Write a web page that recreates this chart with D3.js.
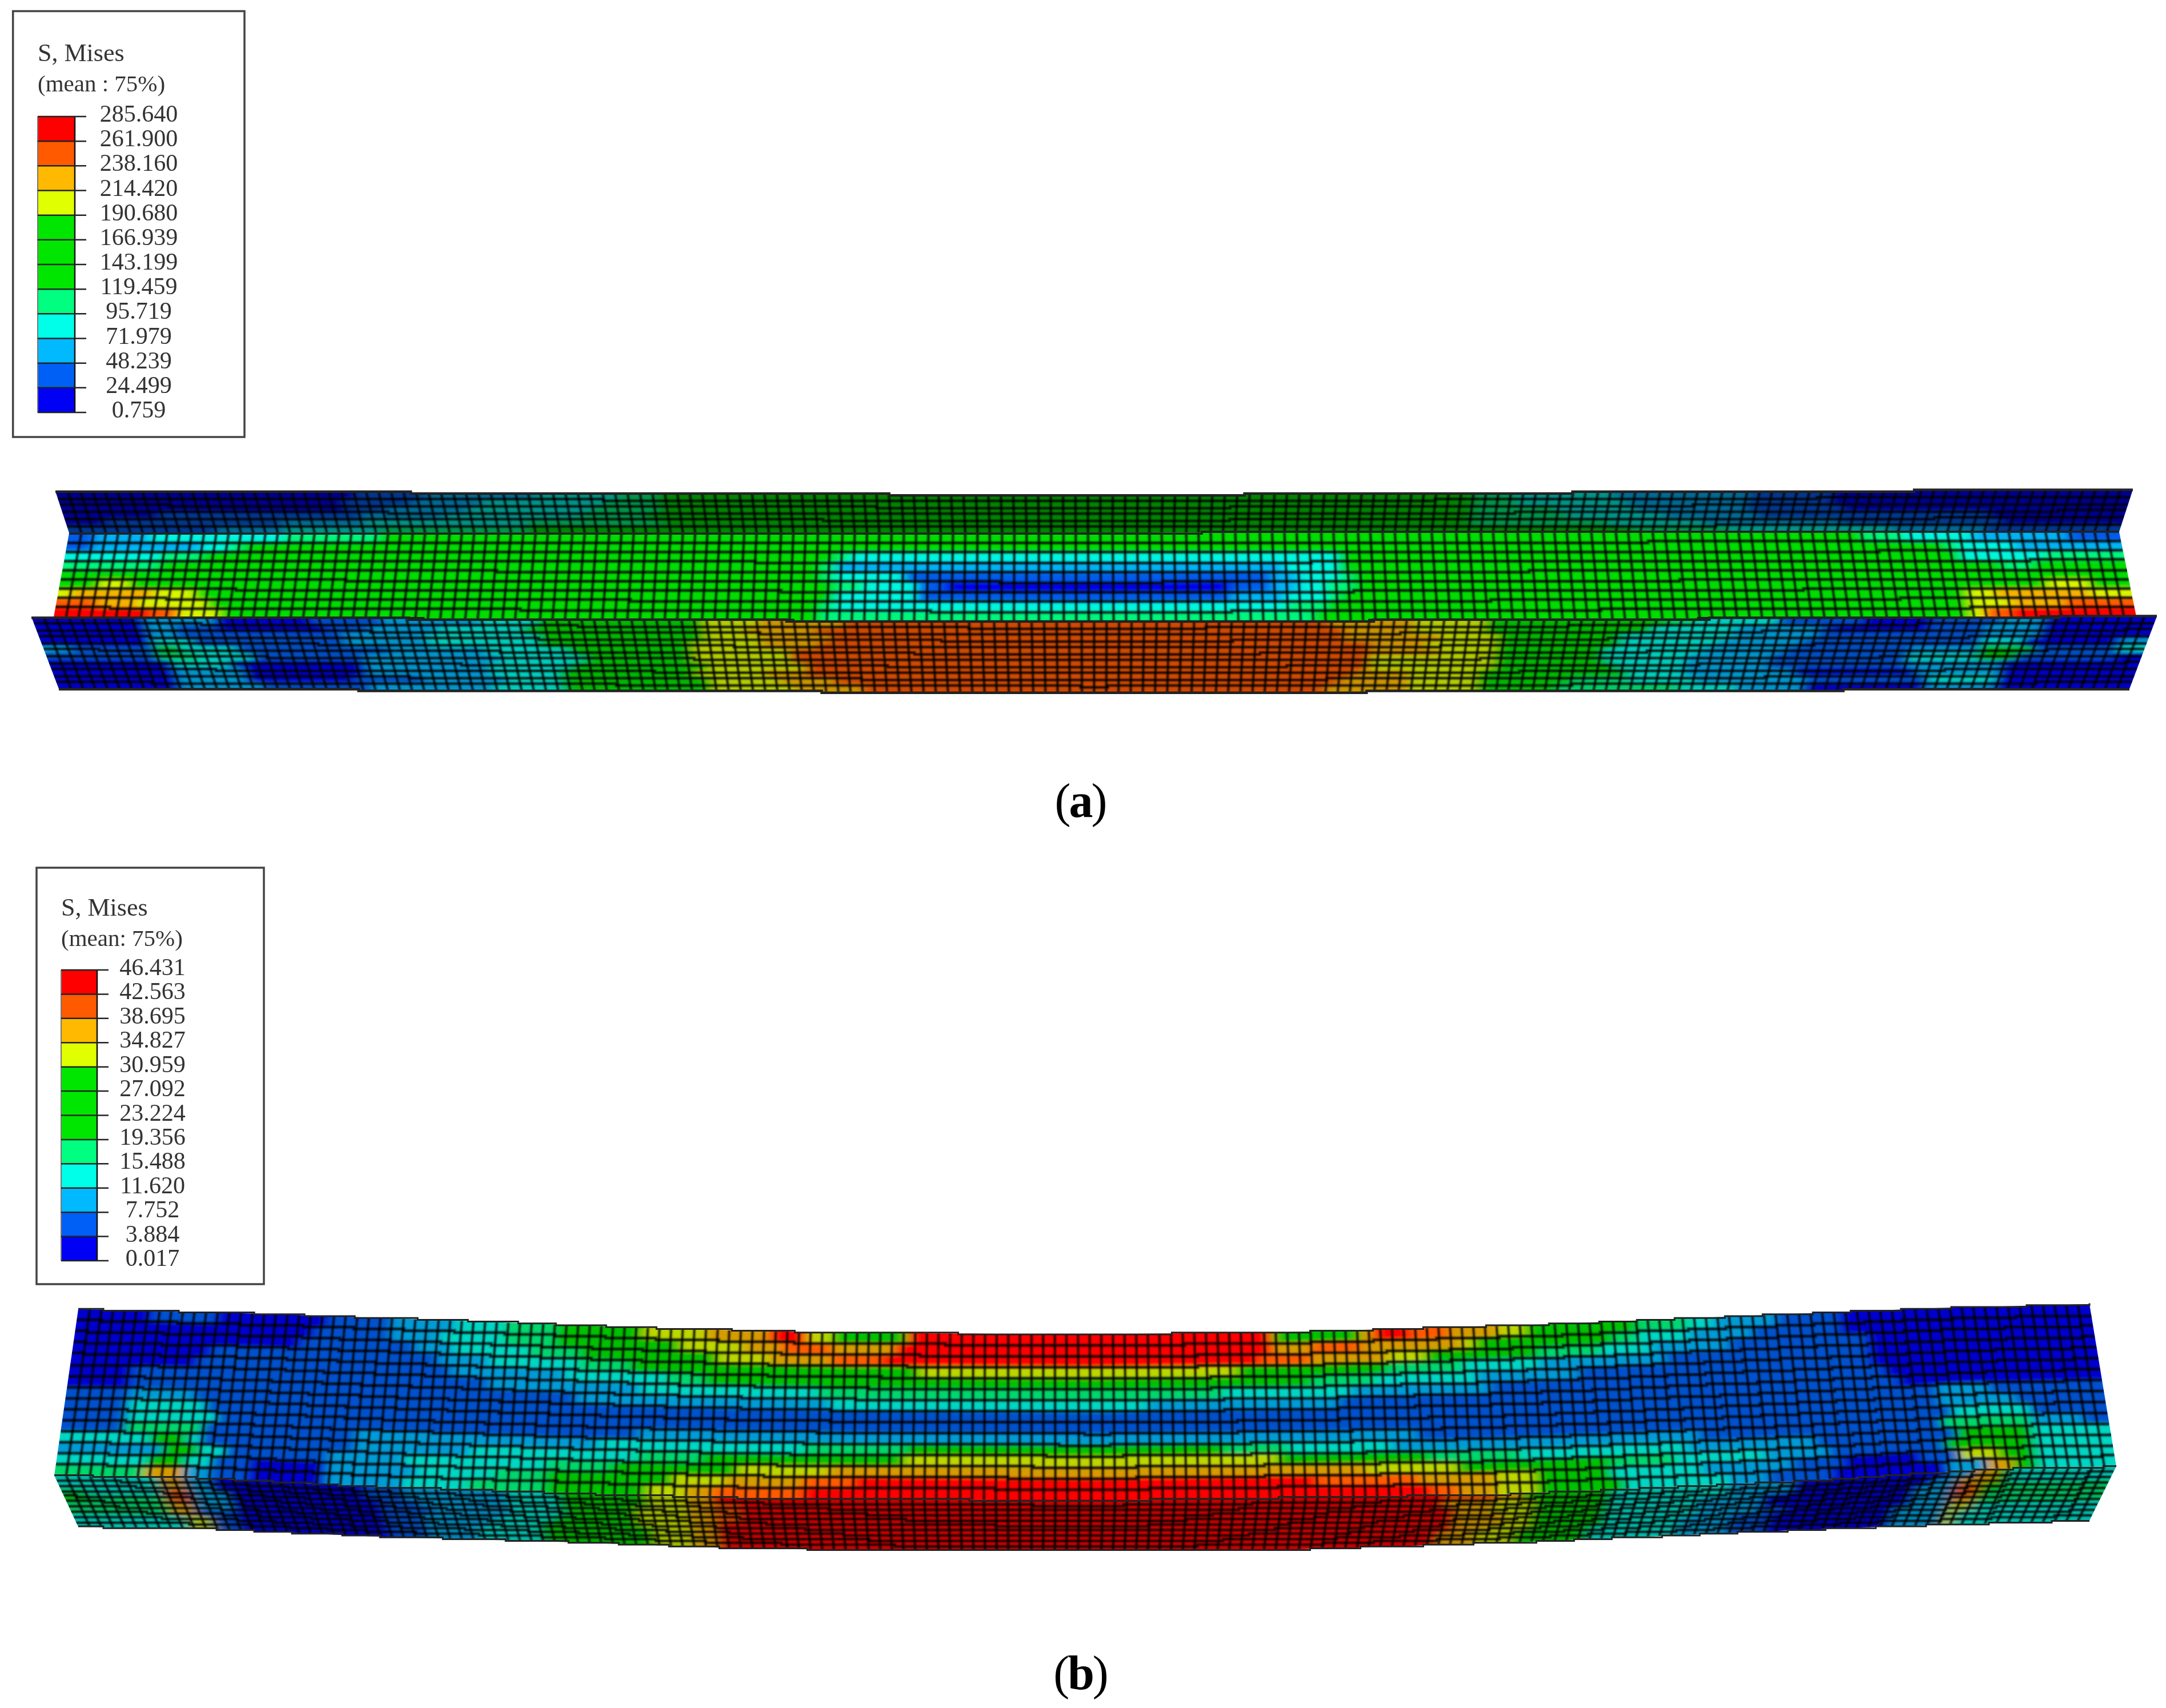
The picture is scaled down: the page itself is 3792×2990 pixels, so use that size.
<!DOCTYPE html>
<html>
<head>
<meta charset="utf-8">
<script src="https://cdn.jsdelivr.net/npm/d3@7"></script>
<style>
  body { margin: 0; background: #fff; }
  text { font-family: "Liberation Serif", serif; fill: #333; }
</style>
</head>
<body>
<div id="chart"></div>
<script>
// legend values, top to bottom
var labelsA = ["285.640","261.900","238.160","214.420","190.680","166.939","143.199","119.459","95.719","71.979","48.239","24.499","0.759"];
var labelsB = ["46.431","42.563","38.695","34.827","30.959","27.092","23.224","19.356","15.488","11.620","7.752","3.884","0.017"];

// contour bands, lowest first (0..b)
var bandKeys = ["0","1","2","3","4","5","6","7","8","9","a","b"];
var bandColors = ["#0000f5","#0060f5","#00b9ff","#00ffe8","#00ff80","#00e600","#00e600","#00e600","#e0ff00","#ffb900","#ff5a00","#ff0000"];

// element bands per row, written as band:lastColumn
var farFlangeA = [
  "0:22 1:27 2:35 3:41 4:44 5:104 4:107 3:114 2:124 1:130 0:152",
  "0:21 1:26 2:31 3:40 4:44 5:104 4:107 3:115 2:124 1:130 0:152",
  "0:21 1:24 2:30 3:39 4:44 5:104 4:110 3:116 2:124 1:131 0:152",
  "0:7 1:22 2:28 3:38 4:43 5:104 4:111 3:118 2:125 1:142 0:152",
  "0:3 1:16 2:22 3:34 4:44 5:104 4:114 3:121 2:131 1:143 0:152",
  "1:11 2:16 3:23 4:34 5:116 4:123 3:135 2:142 1:152"
];
var webA = [
  "1:2 2:6 3:16 4:23 5:133 4:136 3:141 2:148 1:152",
  "1:2 2:10 3:12 4:13 5:139 4:140 3:144 2:152",
  "3:7 4:10 5:57 4:58 3:94 5:140 3:146 4:152",
  "4:7 5:56 4:57 2:90 3:94 5:143 4:145 5:152",
  "5:56 4:57 3:62 1:89 2:91 3:94 4:95 5:152",
  "5:3 8:5 5:57 4:59 3:63 1:65 0:86 1:89 2:91 3:93 4:95 5:146 8:149 5:152",
  "8:1 9:7 8:10 5:57 3:63 1:86 2:90 3:93 4:94 5:140 8:142 9:149 8:152",
  "a:3 9:6 8:11 5:56 4:57 3:90 4:93 5:140 8:143 9:147 a:152",
  "b:7 a:9 8:12 5:56 4:92 5:140 8:141 a:143 b:152"
];
var nearFlangeA = [
  "0:8 2:13 0:20 1:25 2:32 3:36 5:48 8:52 9:58 a:93 9:99 8:104 5:117 4:119 3:125 1:131 0:136 1:141 2:144 0:152",
  "0:8 2:10 1:13 0:21 1:24 2:29 3:35 5:48 8:51 9:56 a:94 9:99 8:104 5:116 3:122 2:128 1:129 0:136 1:140 2:144 0:152",
  "0:8 2:10 1:22 2:28 3:36 5:48 8:52 9:57 a:94 9:101 8:105 5:114 3:122 2:128 1:140 2:144 0:152",
  "0:8 3:11 1:22 2:28 3:36 5:47 8:52 9:56 a:96 9:100 8:105 5:114 3:121 2:127 1:140 3:143 0:150 2:152",
  "2:2 1:8 5:10 3:14 1:25 2:32 3:38 5:47 8:54 a:96 9:101 8:105 5:113 3:120 2:126 1:135 2:140 5:144 1:150 3:152",
  "1:8 4:11 3:15 1:23 2:33 3:39 5:47 8:54 a:96 8:105 5:113 3:119 2:125 1:135 3:140 5:143 1:150 0:152",
  "0:9 3:13 1:14 0:23 2:32 3:38 5:48 8:55 a:96 8:105 5:114 3:119 2:125 1:135 2:142 0:152",
  "0:9 2:14 0:23 2:32 3:37 5:47 8:52 9:55 a:95 9:99 8:104 5:115 3:119 2:127 0:136 2:142 0:152",
  "0:9 2:14 0:22 1:27 2:33 3:37 5:48 8:53 9:57 a:94 9:99 8:104 5:111 4:115 3:120 2:128 1:137 3:142 0:152",
  "0:9 2:15 1:23 2:32 3:37 5:48 8:54 9:59 a:93 9:99 8:104 5:110 4:119 3:123 2:128 0:137 2:142 0:152"
];
var upperB = [
  "0:6 1:11 0:20 1:25 2:30 3:34 4:38 5:45 8:50 9:55 b:58 8:60 5:66 b:95 5:102 9:103 b:106 a:109 9:113 8:115 5:124 4:128 3:130 2:135 1:140 0:160",
  "0:19 1:25 2:29 3:34 4:38 5:48 8:53 9:56 a:60 9:65 b:95 9:98 a:102 9:110 8:111 5:122 4:124 3:128 2:133 1:140 0:160",
  "0:18 1:27 2:30 3:36 4:40 5:51 8:55 9:60 a:64 b:94 a:98 9:104 8:107 5:116 4:121 3:125 2:131 1:142 0:160",
  "0:11 1:29 2:33 3:40 4:44 5:67 8:92 5:104 4:110 3:116 2:126 1:142 0:160",
  "0:10 1:30 2:39 3:47 4:50 5:98 4:103 3:111 2:119 1:142 0:160",
  "0:5 1:33 2:45 3:59 4:91 3:101 2:112 1:143 0:160",
  "0:5 1:40 2:60 3:85 2:100 1:144 0:160",
  "1:5 2:10 1:147 2:151 1:160",
  "1:5 3:11 1:147 2:153 1:160",
  "1:5 3:12 1:45 2:106 1:148 3:154 1:160",
  "1:5 4:11 1:23 2:42 3:58 4:66 5:91 4:96 3:104 2:128 1:147 4:154 2:158 1:160",
  "3:7 5:10 3:11 1:23 2:32 3:45 4:50 5:66 8:95 5:107 4:114 3:127 2:137 1:148 5:154 3:160",
  "2:8 5:11 3:13 1:21 2:27 3:38 4:43 5:53 8:60 9:102 8:109 5:121 4:126 3:133 2:138 1:147 5:154 3:160",
  "3:7 5:10 3:12 1:15 0:21 2:28 3:34 4:38 5:48 8:52 9:58 a:62 b:98 a:106 9:112 8:115 5:121 3:128 2:135 1:139 0:145 1:148 8:151 5:154 3:160",
  "4:7 9:10 2:12 1:15 0:21 2:27 3:32 4:38 5:46 8:49 9:51 a:58 b:107 a:109 9:112 8:115 5:122 3:130 2:133 1:138 0:147 2:150 9:152 5:154 3:160"
];
var lowerB = [
  "3:8 9:10 2:12 0:24 1:27 2:35 3:39 5:46 8:49 9:51 b:108 a:112 9:114 5:121 3:130 2:135 0:147 2:149 9:151 5:152 3:160",
  "3:8 9:10 2:12 0:24 1:27 2:35 3:39 5:46 8:49 9:51 a:53 b:108 9:112 8:115 5:121 3:130 2:135 0:146 2:148 9:151 5:152 3:160",
  "4:2 3:8 a:10 2:13 0:25 1:28 2:35 3:39 5:45 8:49 9:51 a:53 b:109 9:112 8:115 5:121 3:128 2:133 0:145 2:148 a:150 5:152 4:160",
  "5:2 4:8 a:10 2:13 0:25 1:29 2:35 3:39 5:45 8:49 9:51 a:53 b:109 9:113 8:115 5:121 3:128 2:133 0:145 2:148 a:150 5:151 4:160",
  "4:8 9:10 2:13 0:25 1:28 2:34 3:38 5:45 8:49 9:51 b:109 9:113 8:115 5:121 3:128 2:133 1:135 0:145 2:148 9:150 4:160",
  "4:8 9:10 1:13 0:25 1:28 2:33 3:37 5:46 8:49 9:51 b:109 9:112 8:115 5:121 3:127 2:131 1:134 0:144 2:148 8:150 3:160",
  "3:9 8:11 1:13 0:25 1:28 2:32 3:37 5:46 8:49 9:51 b:108 9:111 8:114 5:120 3:127 2:131 1:134 0:144 2:148 8:149 3:160",
  "3:9 8:11 1:13 0:25 1:28 2:32 3:37 5:46 8:49 9:51 b:108 9:111 8:114 5:120 3:127 2:131 1:134 0:144 2:148 8:149 3:160"
];

var svgWidth = 3792;
var svgHeight = 2990;

var svg = d3.select("#chart")
  .append("svg")
  .attr("width", svgWidth)
  .attr("height", svgHeight);

var defs = svg.append("defs");

// soft contour look: blur laid over the sharp cells
var blur = defs.append("filter")
  .attr("id", "soft")
  .attr("x", "-2%").attr("y", "-10%").attr("width", "104%").attr("height", "120%");
blur.append("feGaussianBlur").attr("in", "SourceGraphic").attr("stdDeviation", "10 3").attr("result", "b");
var merge = blur.append("feMerge");
merge.append("feMergeNode").attr("in", "SourceGraphic");
merge.append("feMergeNode").attr("in", "b");

defs.append("filter")
  .attr("id", "lineSoft")
  .attr("x", "-1%").attr("y", "-5%").attr("width", "102%").attr("height", "110%")
  .append("feGaussianBlur").attr("stdDeviation", 0.8);

var bandColor = d3.scaleOrdinal().domain(bandKeys).range(bandColors);

function parseRow(row, nCols) {
  var out = [];
  row.split(" ").forEach(function(run) {
    var parts = run.split(":");
    while (out.length < +parts[1] && out.length < nCols) out.push(parts[0]);
  });
  return out;
}

var faceCount = 0;

function drawFace(rows, cfg) {
  var nCols = cfg.cols;
  var nRows = rows.length;
  var cells = rows.map(function(r) { return parseRow(r, nCols); });

  var uScale = d3.scaleLinear().domain([0, nCols]).range([0, 1]);
  var vScale = d3.scaleLinear().domain([0, nRows]).range([0, 1]);
  var xTop = d3.scaleLinear().domain([0, 1]).range(cfg.topX);
  var xBot = d3.scaleLinear().domain([0, 1]).range(cfg.botX);
  var yTop = d3.scaleLinear().domain(cfg.topEdge.map(function(p) { return p[0]; })).range(cfg.topEdge.map(function(p) { return p[1]; }));
  var yBot = d3.scaleLinear().domain(cfg.botEdge.map(function(p) { return p[0]; })).range(cfg.botEdge.map(function(p) { return p[1]; }));

  function pt(c, r) {
    var u = uScale(c), v = vScale(r);
    var xt = xTop(u), xb = xBot(u);
    var yt = yTop(xt), yb = yBot(xb);
    return [xt + (xb - xt) * v, yt + (yb - yt) * v];
  }

  var line = d3.line();
  var id = "face" + (faceCount++);

  var outline = [];
  d3.range(0, nCols + 1).forEach(function(c) { outline.push(pt(c, 0)); });
  d3.range(nCols, -1, -1).forEach(function(c) { outline.push(pt(c, nRows)); });
  defs.append("clipPath").attr("id", id)
    .append("path").attr("d", line(outline) + "Z");

  var g = svg.append("g").attr("clip-path", "url(#" + id + ")");
  var cellG = g.append("g").attr("filter", "url(#soft)");

  var cellData = [];
  cells.forEach(function(row, r) {
    row.forEach(function(level, c) { cellData.push({ r: r, c: c, level: level }); });
  });

  cellG.selectAll("path")
    .data(cellData)
    .enter()
    .append("path")
    .attr("d", function(d) {
      return line([pt(d.c, d.r), pt(d.c + 1, d.r), pt(d.c + 1, d.r + 1), pt(d.c, d.r + 1)]) + "Z";
    })
    .each(function(d) {
      var f = (d.level === "a" || d.level === "b") ? cfg.hot : cfg.shade;
      var col = d3.rgb(bandColor(d.level));
      col = d3.rgb(col.r * f, col.g * f, col.b * f).formatHex();
      d3.select(this).attr("fill", col).attr("stroke", col).attr("stroke-width", 1);
    });

  // mesh, the long lines snap to the pixels of the old screen grab
  var meshCol = d3.scaleLinear().domain([0, cfg.meshCols]).range([0, nCols]);
  var meshRow = d3.scaleLinear().domain([0, cfg.meshRows]).range([0, nRows]);
  var stepLine = d3.line().curve(d3.curveStepAfter);
  function hPoints(r) {
    return d3.range(0, nCols + 1).map(function(c) {
      var p = pt(c, meshRow(r));
      return [p[0], Math.round(p[1] / cfg.snap) * cfg.snap];
    });
  }
  function vPoints(c) {
    return [pt(meshCol(c), 0), pt(meshCol(c), nRows)];
  }

  var rowIdx = d3.range(1, cfg.meshRows);
  var colIdx = d3.range(1, cfg.meshCols);
  var meshG = g.append("g").attr("filter", "url(#lineSoft)");

  meshG.selectAll(".fuzz").data(rowIdx).enter().append("path")
    .attr("class", "fuzz")
    .attr("d", function(r) { return stepLine(hPoints(r)); })
    .attr("fill", "none").attr("stroke", "#000").attr("stroke-width", cfg.fuzz).attr("opacity", 0.3);
  meshG.selectAll(".vfuzz").data(colIdx).enter().append("path")
    .attr("class", "vfuzz")
    .attr("d", function(c) { return line(vPoints(c)); })
    .attr("fill", "none").attr("stroke", "#000").attr("stroke-width", 7).attr("opacity", 0.22);
  meshG.selectAll(".hline").data(rowIdx).enter().append("path")
    .attr("class", "hline")
    .attr("d", function(r) { return stepLine(hPoints(r)); })
    .attr("fill", "none").attr("stroke", "#000").attr("stroke-width", 3.2).attr("opacity", 0.85);
  meshG.selectAll(".vline").data(colIdx).enter().append("path")
    .attr("class", "vline")
    .attr("d", function(c) { return line(vPoints(c)); })
    .attr("fill", "none").attr("stroke", "#000").attr("stroke-width", 3).attr("opacity", 0.85);

  // heavier outer edges
  svg.append("path")
    .attr("d", stepLine(hPoints(0)))
    .attr("fill", "none").attr("stroke", "#222").attr("stroke-width", cfg.edge);
  svg.append("path")
    .attr("d", stepLine(hPoints(cfg.meshRows)))
    .attr("fill", "none").attr("stroke", "#222").attr("stroke-width", cfg.edge);
}

drawFace(farFlangeA, {
  cols: 152, meshCols: 167, meshRows: 6, shade: 0.58, hot: 0.58, snap: 3.2, fuzz: 6, edge: 4.5,
  topX: [97, 3734], botX: [121, 3710],
  topEdge: [[97, 860], [1900, 867], [3734, 857]],
  botEdge: [[121, 933], [1900, 933], [3710, 931]]
});
drawFace(webA, {
  cols: 152, meshCols: 167, meshRows: 9, shade: 0.96, hot: 1, snap: 3.2, fuzz: 7, edge: 3,
  topX: [121, 3710], botX: [94, 3740],
  topEdge: [[121, 933], [1900, 933], [3710, 931]],
  botEdge: [[94, 1080], [1900, 1089], [3740, 1079]]
});
drawFace(nearFlangeA, {
  cols: 152, meshCols: 170, meshRows: 11, shade: 0.8, hot: 0.82, snap: 3.2, fuzz: 6, edge: 4.5,
  topX: [55, 3776], botX: [103, 3728],
  topEdge: [[55, 1080], [1900, 1089], [3776, 1079]],
  botEdge: [[103, 1206], [1900, 1213], [3728, 1206]]
});

var foldB = [[95, 2583], [337, 2587], [650, 2603], [1004, 2615], [1299, 2623], [1910, 2627], [2608, 2617], [2844, 2607], [3198, 2590], [3481, 2572], [3705, 2567]];
drawFace(upperB, {
  cols: 160, meshCols: 173, meshRows: 15, shade: 0.84, hot: 1, snap: 3.2, fuzz: 7, edge: 3,
  topX: [137, 3658], botX: [95, 3705],
  topEdge: [[137, 2292], [461, 2300], [803, 2312], [1145, 2325], [1452, 2333], [1910, 2336], [2254, 2332], [2714, 2318], [3091, 2302], [3387, 2290], [3658, 2283]],
  botEdge: foldB
});
drawFace(lowerB, {
  cols: 160, meshCols: 173, meshRows: 10, shade: 0.72, hot: 0.78, snap: 3.2, fuzz: 5, edge: 3,
  topX: [95, 3705], botX: [137, 3658],
  topEdge: foldB,
  botEdge: [[137, 2673], [373, 2677], [662, 2690], [1004, 2700], [1275, 2710], [1582, 2715], [2053, 2715], [2278, 2712], [2655, 2700], [2950, 2687], [3280, 2673], [3658, 2662]]
});

function drawLegend(labels, cfg) {
  var g = svg.append("g");
  g.append("rect")
    .attr("x", cfg.box[0]).attr("y", cfg.box[1])
    .attr("width", cfg.box[2] - cfg.box[0]).attr("height", cfg.box[3] - cfg.box[1])
    .attr("fill", "#fff").attr("stroke", "#444").attr("stroke-width", 3.5);

  g.append("text").attr("x", cfg.barX).attr("y", cfg.titleY).attr("font-size", 44).text("S, Mises");
  g.append("text").attr("x", cfg.barX).attr("y", cfg.titleY + 53).attr("font-size", 41).text(cfg.sub);

  var tick = d3.scaleLinear().domain([0, labels.length - 1]).range([cfg.barTop, cfg.barBottom]);
  var segColors = bandColors.slice().reverse();

  g.selectAll(".seg").data(segColors).enter().append("rect")
    .attr("class", "seg")
    .attr("x", cfg.barX).attr("width", cfg.barW)
    .attr("y", function(d, i) { return tick(i); })
    .attr("height", function(d, i) { return tick(i + 1) - tick(i); })
    .attr("fill", function(d) { return d; });

  g.append("line")
    .attr("x1", cfg.barX + cfg.barW).attr("x2", cfg.barX + cfg.barW)
    .attr("y1", cfg.barTop).attr("y2", cfg.barBottom)
    .attr("stroke", "#111").attr("stroke-width", 2.5);
  g.append("line")
    .attr("x1", cfg.barX).attr("x2", cfg.barX)
    .attr("y1", cfg.barTop).attr("y2", cfg.barBottom)
    .attr("stroke", "#777").attr("stroke-width", 2);

  g.selectAll(".tk").data(labels).enter().append("line")
    .attr("class", "tk")
    .attr("x1", cfg.barX).attr("x2", cfg.tickEnd)
    .attr("y1", function(d, i) { return tick(i); })
    .attr("y2", function(d, i) { return tick(i); })
    .attr("stroke", "#222").attr("stroke-width", 2.5);

  g.selectAll(".lb").data(labels).enter().append("text")
    .attr("class", "lb")
    .attr("x", cfg.labelX)
    .attr("y", function(d, i) { return tick(i) + 9; })
    .attr("text-anchor", "middle")
    .attr("font-size", 42)
    .text(function(d) { return d; });
}

drawLegend(labelsA, {
  box: [22.7, 19.5, 428, 765], barX: 66, barW: 65, barTop: 204, barBottom: 722,
  tickEnd: 151, labelX: 243, titleY: 107, sub: "(mean : 75%)"
});
drawLegend(labelsB, {
  box: [64, 1519, 462, 2248], barX: 107, barW: 63, barTop: 1698, barBottom: 2207,
  tickEnd: 190, labelX: 267, titleY: 1603, sub: "(mean: 75%)"
});

function panelLabel(letter, x, y) {
  var t = svg.append("text").attr("x", x).attr("y", y).attr("text-anchor", "middle")
    .attr("font-size", 84).attr("letter-spacing", -3).style("fill", "#000");
  t.append("tspan").text("(");
  t.append("tspan").attr("font-weight", "bold").text(letter);
  t.append("tspan").text(")");
}
panelLabel("a", 1891, 1430);
panelLabel("b", 1891, 2957);
</script>
</body>
</html>
